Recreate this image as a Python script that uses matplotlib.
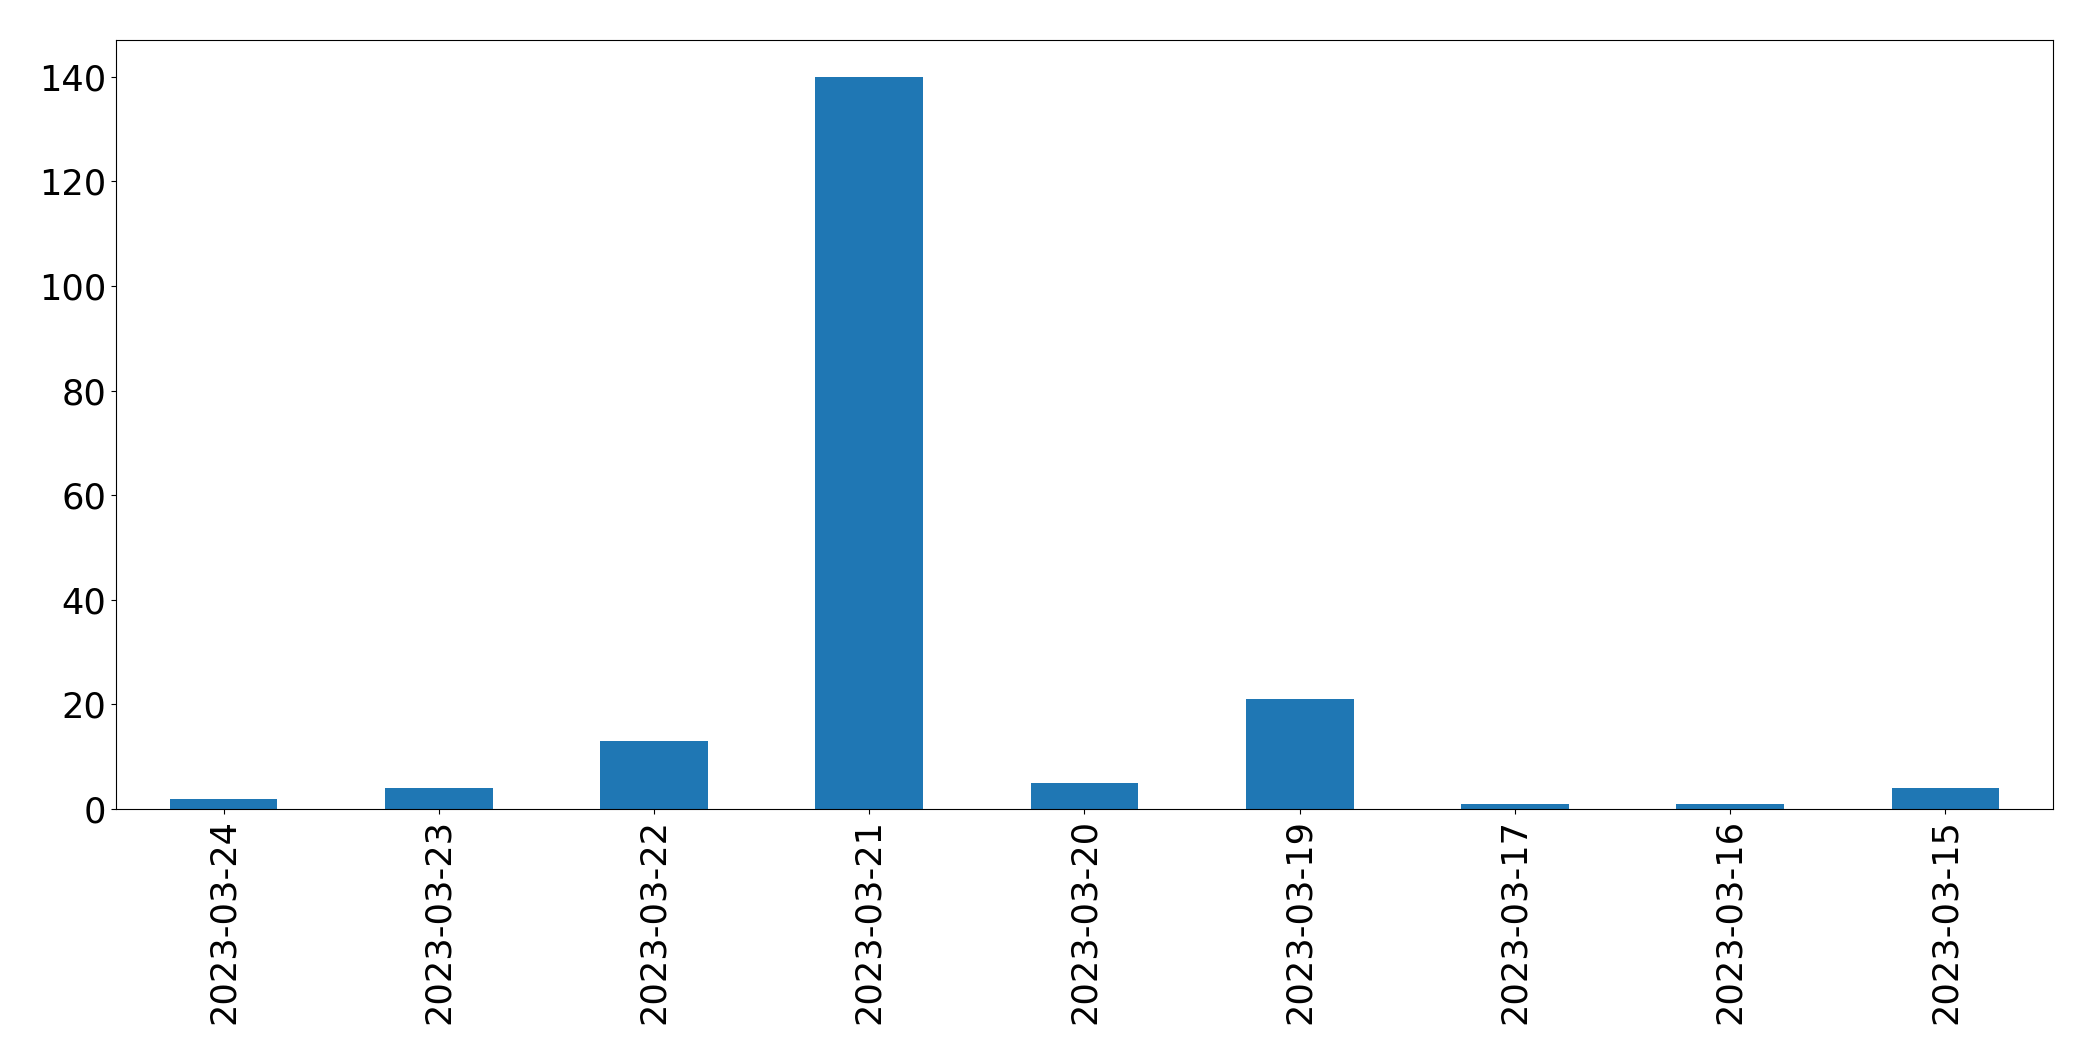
import matplotlib
matplotlib.use("Agg")
import matplotlib.pyplot as plt
import pandas as pd

dates = ['2023-03-24', '2023-03-23', '2023-03-22', '2023-03-21', '2023-03-20',
         '2023-03-19', '2023-03-17', '2023-03-16', '2023-03-15']
counts = [2, 4, 13, 140, 5, 21, 1, 1, 4]

s = pd.Series(counts, index=dates)

fig = plt.figure(figsize=(20.93, 10.61), dpi=100)
ax = fig.add_axes([0.0554, 0.2375, 0.9255, 0.7248])
s.plot(kind='bar', ax=ax, color='#1f77b4')
ax.tick_params(axis='both', labelsize=25.3)
ax.set_xlabel('')

fig.savefig('out.png', dpi=100)
